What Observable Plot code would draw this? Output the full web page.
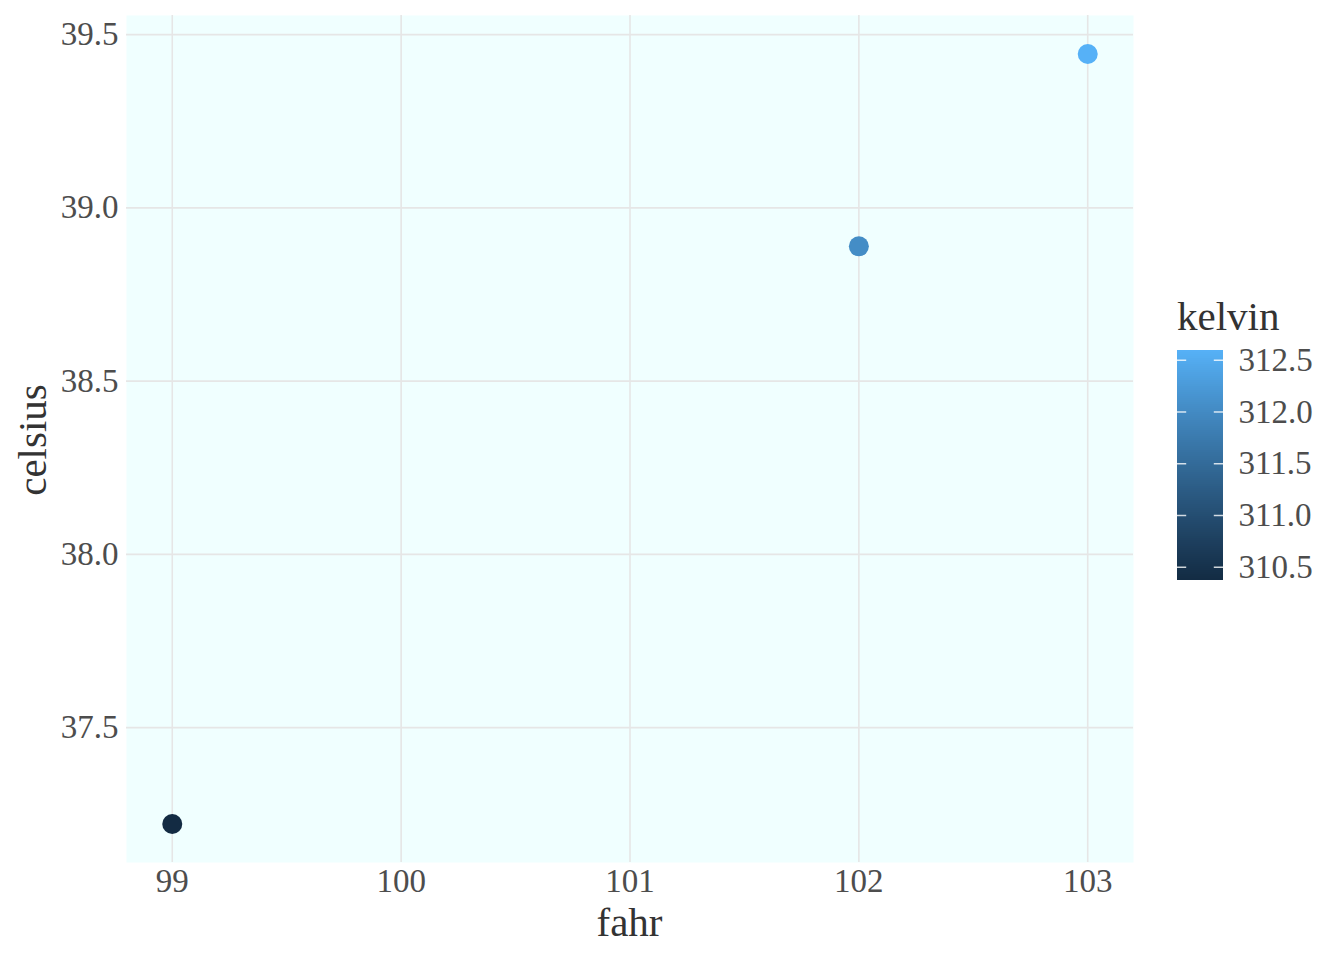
<!DOCTYPE html>
<html><head><meta charset="utf-8">
<script src="https://cdn.jsdelivr.net/npm/d3@7"></script>
<script src="https://cdn.jsdelivr.net/npm/@observablehq/plot@0.6"></script>
<style>
body{margin:0;background:#fff;}
#wrap{position:relative;width:1344px;height:960px;font-family:"Liberation Serif","Times New Roman",serif;overflow:hidden;}
#main{position:absolute;left:0;top:0;}
#legend{position:absolute;left:1177px;top:325px;}
.title{position:absolute;font-size:41px;line-height:40px;height:40px;color:#333;white-space:nowrap;}
#ltitle{left:1177px;top:296px;}
#xtitle{left:629.5px;top:901.5px;transform:translateX(-50%);}
#ytitle{left:32px;top:440px;transform:translate(-50%,-50%) rotate(-90deg);}
svg text{font-family:"Liberation Serif","Times New Roman",serif;}
</style></head><body>
<div id="wrap">
  <div id="main"></div>
  <div class="title" id="xtitle">fahr</div>
  <div class="title" id="ytitle">celsius</div>
  <div class="title" id="ltitle">kelvin</div>
  <div id="legend"></div>
</div>
<script>
// data
const fahr = [99, 102, 103];
const celsius = [37.222, 38.889, 39.444];
const kelvin = [310.372, 312.039, 312.594];
// ticks
const xTicks = [99, 100, 101, 102, 103];
const yTicks = [37.5, 38.0, 38.5, 39.0, 39.5];
const kelvinTicks = [310.5, 311.0, 311.5, 312.0, 312.5];
const colorRange = ["#132B43", "#56B1F7"];

const FONT = "Liberation Serif";
const data = fahr.map((f, i) => ({fahr: f, celsius: celsius[i], kelvin: kelvin[i]}));
const kDomain = d3.extent(kelvin);
const xExt = d3.extent(fahr), yExt = d3.extent(celsius);
const xPad = (xExt[1] - xExt[0]) * 0.05, yPad = (yExt[1] - yExt[0]) * 0.05;
const fmt1 = d3.format(".1f");
const gridStyle = {stroke: "#E6E6E6", strokeOpacity: 1, strokeWidth: 1.6};
const colorOpts = {type: "linear", domain: kDomain, range: colorRange, interpolate: "lab"};

const main = Plot.plot({
  width: 1344, height: 960,
  marginLeft: 126, marginRight: 211, marginTop: 15, marginBottom: 98,
  style: {fontFamily: FONT, fontSize: "33px", color: "#4D4D4D", background: "transparent"},
  x: {domain: [xExt[0] - xPad, xExt[1] + xPad]},
  y: {domain: [yExt[0] - yPad, yExt[1] + yPad]},
  color: colorOpts,
  marks: [
    Plot.frame({fill: "#F0FFFF", stroke: null}),
    Plot.gridX(xTicks, gridStyle),
    Plot.gridY(yTicks, gridStyle),
    Plot.axisX(xTicks, {tickSize: 0, tickPadding: 6, tickFormat: d => String(d), label: null, fontSize: 33, fontFamily: FONT}),
    Plot.axisY(yTicks, {tickSize: 0, tickPadding: 8, tickFormat: fmt1, label: null, fontSize: 33, fontFamily: FONT}),
    Plot.dot(data, {x: "fahr", y: "celsius", fill: "kelvin", r: 10, stroke: null})
  ]
});
document.getElementById("main").append(main);

const n = 115;
const bands = d3.range(n).map(i => ({
  y1: kDomain[0] + (kDomain[1] - kDomain[0]) * i / n,
  y2: kDomain[0] + (kDomain[1] - kDomain[0]) * (i + 1) / n,
  v: kDomain[0] + (kDomain[1] - kDomain[0]) * (i + 0.5) / n
}));
const legend = Plot.plot({
  width: 162, height: 280,
  marginLeft: 0, marginRight: 116, marginTop: 25, marginBottom: 25,
  style: {fontFamily: FONT, fontSize: "33px", color: "#4D4D4D", background: "transparent", overflow: "visible"},
  x: {domain: [0, 1], axis: null},
  y: {domain: kDomain, axis: null},
  color: colorOpts,
  marks: [
    Plot.rect(bands, {x1: 0, x2: 1, y1: "y1", y2: "y2", fill: "v", shapeRendering: "crispEdges"}),
    Plot.ruleY(kelvinTicks, {x1: 0, x2: 0.2, stroke: "white", strokeWidth: 1.5, strokeOpacity: 0.8}),
    Plot.ruleY(kelvinTicks, {x1: 0.8, x2: 1, stroke: "white", strokeWidth: 1.5, strokeOpacity: 0.8}),
    Plot.axisY(kelvinTicks, {anchor: "right", tickSize: 0, tickPadding: 15, tickFormat: fmt1, label: null, fontSize: 33, fontFamily: FONT})
  ]
});
document.getElementById("legend").append(legend);
</script>
</body></html>
